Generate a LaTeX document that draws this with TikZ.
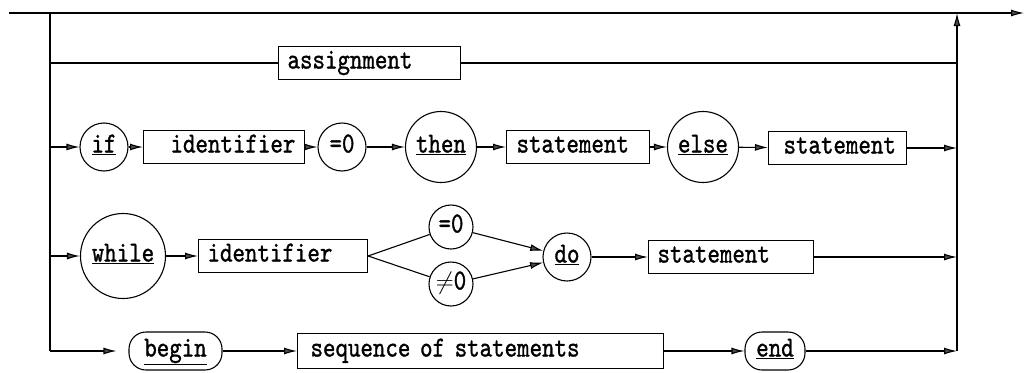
\documentclass[tikz,border=0pt]{standalone}
\usepackage{fontspec}
\usetikzlibrary{arrows.meta, positioning}

\newfontfamily\diagtt{lmmono10-regular}[Extension=.otf, FakeStretch=0.82, FakeBold=1.1]

\begin{document}
\begin{tikzpicture}[
    x=1pt, y=-1pt, line width=1.1pt,
    font=\diagtt\fontsize{29}{31}\selectfont,
    arr/.style={-{Latex[length=13pt, width=7pt, fill=black!70]}},
    box/.style={draw, anchor=west, minimum height=33pt, inner sep=0pt, align=left, text height=17pt, text depth=6pt},
    kw/.style={draw, circle, inner sep=0pt, text height=17pt, text depth=6pt},
    rkw/.style={draw, rounded corners=17pt, minimum height=38pt, inner sep=0pt, text height=17pt, text depth=6pt}
]
    \useasboundingbox (0,0) rectangle (1027,372);

    % rails
    \coordinate (in) at (9,13);
    \coordinate (out) at (1024,13);
    \coordinate (ltop) at (50,13);
    \coordinate (rtop) at (957,13);
    \coordinate (lbot) at (50,351);
    \coordinate (rbot) at (957,351);

    \draw[arr] (in) -- (out);
    \draw (ltop) -- (lbot);
    \draw[arr] (rbot) -- (rtop);

    % assignment
    \node[box, text width=182pt] (asg) at (278,63) {\hspace*{9pt}assignment};
    \draw (ltop |- asg) -- (asg);
    \draw (asg) -- (rtop |- asg);

    % if ... then ... else
    \node[kw, minimum size=48pt] (if) at (104,147) {\underline{if}};
    \node[box, text width=161pt] (id1) at (143,147) {\hspace*{27pt}identifier};
    \node[kw, minimum size=48pt] (eq1) at (342,147) {=0};
    \node[kw, minimum size=71pt] (then) at (441,147) {\underline{then}};
    \node[box, text width=143pt] (st1) at (506,147) {\hspace*{10pt}statement};
    \node[kw, minimum size=71pt] (else) at (703,147) {\underline{else}};
    \node[box, text width=138pt] (st2) at (768,148) {\hspace*{15pt}statement};

    \draw[arr] (ltop |- if) -- (if);
    \draw[arr] (if) -- (id1);
    \draw[arr] (id1) -- (eq1);
    \draw[arr] (eq1) -- (then);
    \draw[arr] (then) -- (st1);
    \draw[arr] (st1) -- (else);
    \draw[arr] (else) -- (st2);
    \draw[arr] (st2) -- (rtop |- st2);

    % while ... do
    \node[kw, minimum size=85pt] (while) at (123,256) {\underline{while}};
    \node[box, text width=169pt] (id2) at (198,256) {\hspace*{9pt}identifier};
    \node[kw, minimum size=44pt] (eq2) at (451,227) {=0};
    \node[kw, minimum size=44pt] (ne2) at (451,284) {\(\neq\)0};
    \node[kw, minimum size=48pt] (do) at (567,257) {\underline{do}};
    \node[box, text width=165pt] (st3) at (648,257) {\hspace*{9pt}statement};

    \draw[arr] (ltop |- while) -- (while);
    \draw[arr] (while) -- (id2);
    \draw (id2.east) -- (eq2);
    \draw (id2.east) -- (ne2);
    \draw[arr] (eq2) -- (do);
    \draw[arr] (ne2) -- (do);
    \draw[arr] (do) -- (st3);
    \draw[arr] (st3) -- (rtop |- st3);

    % begin ... end
    \node[rkw, minimum width=93pt] (begin) at (175.5,351) {\underline{begin}};
    \node[box, text width=366pt, minimum height=35pt] (seq) at (297,351) {\hspace*{13pt}sequence of statements};
    \node[rkw, minimum width=60pt] (end) at (775,351) {\underline{end}};

    \draw[arr, shorten >=12pt] (lbot) -- (begin);
    \draw[arr] (begin) -- (seq);
    \draw[arr] (seq) -- (end);
    \draw[arr] (end) -- (rbot);

\end{tikzpicture}
\end{document}
